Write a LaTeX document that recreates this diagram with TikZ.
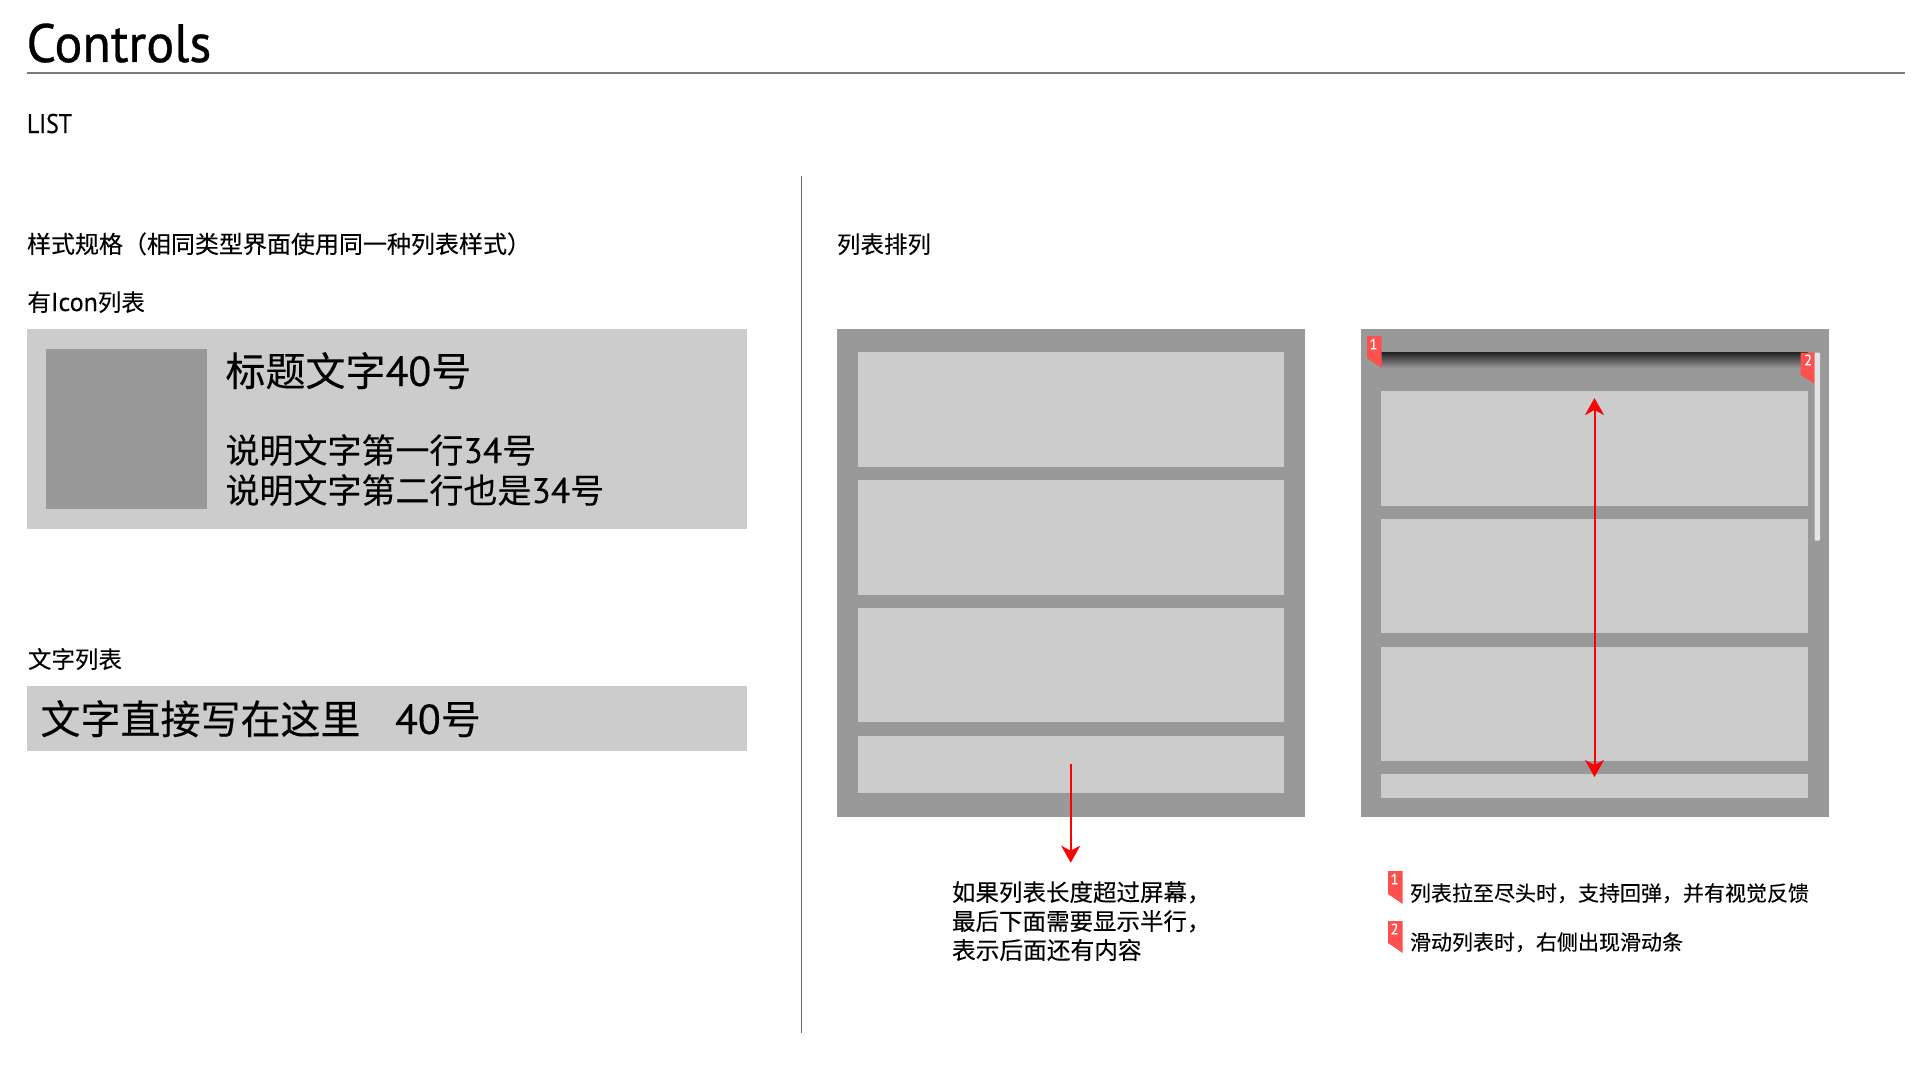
\documentclass[tikz,border=0pt]{standalone}
\usepackage{fontspec}
\usepackage{graphicx}
\setmainfont{PT Sans}
\newfontfamily\lat[FakeBold=0.3]{PT Sans}
\newfontfamily\latb[FakeBold=0.6]{PT Sans}
\newfontfamily\cjk[FakeBold=0.15]{Noto Sans CJK SC}
\usetikzlibrary{arrows.meta}
\definecolor{panelgray}{HTML}{999999}
\definecolor{rowgray}{HTML}{CCCCCC}
\definecolor{flagred}{HTML}{FF5050}
\definecolor{rulegray}{HTML}{7A7A7A}
\definecolor{divgray}{HTML}{666666}
\newcommand{\fsz}[1]{\fontsize{#1}{#1}\selectfont}
\tikzset{
  txt/.style={anchor=base west,inner sep=0pt,outer sep=0pt,text=black},
  panel/.style={fill=panelgray},
  row/.style={fill=rowgray},
  flag/.style={fill=flagred},
  num/.style={inner sep=0pt,text=white,font=\fsz{15}\lat},
  redarrow/.style={draw=red,line width=2pt,-{Stealth[length=17pt,width=19pt,inset=5pt]}},
  redboth/.style={draw=red,line width=2pt,{Stealth[length=17pt,width=19pt,inset=5pt]}-{Stealth[length=17pt,width=19pt,inset=5pt]}},
}
\begin{document}
\begin{tikzpicture}[x=1pt,y=-1pt]
\useasboundingbox (0,0) rectangle (1921,1081);
\fill[white] (0,0) rectangle (1921,1081);
% header
\node[txt,font=\fsz{54}\latb] (title) at (26.5,62) {\scalebox{.965}[1]{Controls}};
\coordinate (ruleA) at (27,73); \coordinate (ruleB) at (1905,73);
\draw[color=rulegray,line width=2pt] (ruleA) -- (ruleB);
\node[txt,font=\fsz{27}\lat] (list) at (27,133) {\scalebox{.88}[1]{LIST}};
\coordinate (divA) at (801.5,176); \coordinate (divB) at (801.5,1033);
\draw[color=divgray,line width=1.5pt] (divA) -- (divB);
% left column
\node[txt,font=\fsz{24}\cjk] (h1) at (27,253) {样式规格（相同类型界面使用同一种列表样式）};
\node[txt,font=\fsz{23.5}\cjk] (h2) at (27.5,311) {有{\lat\fsz{26}Icon}列表};
\fill[row] (27,328.5) rectangle (747,529);
\fill[panel] (46,348.5) rectangle (206.5,509);
\node[txt,font=\fsz{40}\cjk] (t1) at (225.5,386) {标题文字{\lat\fsz{42}40}号};
\node[txt,font=\fsz{34}\cjk] (t2) at (225.5,463) {说明文字第一行{\lat\fsz{35.5}34}号};
\node[txt,font=\fsz{34}\cjk] (t3) at (225.5,503) {说明文字第二行也是{\lat\fsz{35.5}34}号};
\node[txt,font=\fsz{23.5}\cjk] (h3) at (28,668) {文字列表};
\fill[row] (27,686) rectangle (747,751);
\node[txt,font=\fsz{40}\cjk] (t4) at (40.5,734) {文字直接写在这里};
\node[txt,font=\fsz{42}\lat] (t5) at (395,734) {40{\cjk\fsz{40}号}};
% right column
\node[txt,font=\fsz{23.5}\cjk] (h4) at (837,253) {列表排列};
% left phone
\fill[panel] (837,328.5) rectangle (1305,817);
\foreach \a/\b in {352/467,480/595,608/722,736/793}{\fill[row] (857.5,\a) rectangle (1284,\b);}
\coordinate (arrA) at (1070.7,764); \coordinate (arrB) at (1070.7,862.7);
\draw[redarrow] (arrA) -- (arrB);
\node[txt,font=\fsz{23.5}\cjk] (c1) at (952,901) {如果列表长度超过屏幕，};
\node[txt,font=\fsz{23.5}\cjk] (c2) at (952,930) {最后下面需要显示半行，};
\node[txt,font=\fsz{23.7}\cjk] (c3) at (952,959) {表示后面还有内容};
% right phone
\fill[panel] (1360.5,328.5) rectangle (1829,817);
\foreach \a/\b in {391/505.7,518.7/633,646.5/761,774/798}{\fill[row] (1381,\a) rectangle (1808,\b);}
\shade[top color=black!88,bottom color=panelgray] (1381,352) rectangle (1808,368);
\fill[flag] (1367,336) -- (1381.5,336) -- (1381.5,368) -- (1367,358) -- cycle;
\node[num] (n1) at (1373.5,344) {1};
\fill[flag] (1800.7,352.7) -- (1814.7,352.7) -- (1814.7,384) -- (1800.7,375) -- cycle;
\node[num] (n2) at (1808,360) {2};
\fill[black!10,rounded corners=1pt] (1814.5,352.7) rectangle (1820,540.7);
\coordinate (arrC) at (1594.5,398); \coordinate (arrD) at (1594.5,777);
\draw[redboth] (arrC) -- (arrD);
% legend
\fill[flag] (1388,871) -- (1402.7,871) -- (1402.7,904) -- (1388,894) -- cycle;
\node[num] (n3) at (1394.5,879) {1};
\fill[flag] (1388,921) -- (1402.7,921) -- (1402.7,953) -- (1388,943) -- cycle;
\node[num] (n4) at (1394.5,929) {2};
\node[txt,font=\fsz{21}\cjk] (l1) at (1410,901) {列表拉至尽头时，支持回弹，并有视觉反馈};
\node[txt,font=\fsz{21}\cjk] (l2) at (1410,950) {滑动列表时，右侧出现滑动条};
\end{tikzpicture}
\end{document}
